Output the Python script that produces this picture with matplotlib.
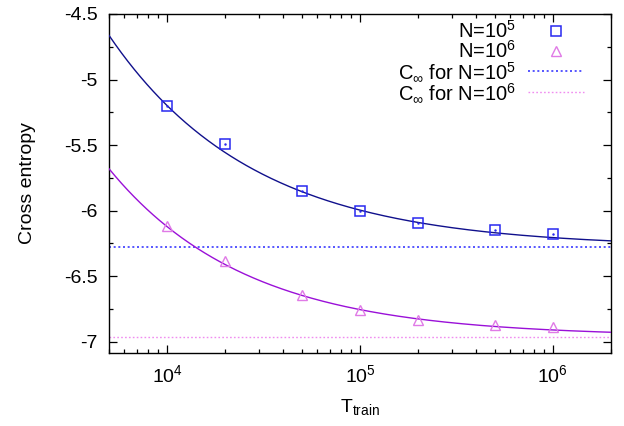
import numpy as np
import matplotlib
matplotlib.use("Agg")
import matplotlib.pyplot as plt
from matplotlib.ticker import FixedLocator, NullFormatter, LogLocator

plt.rcParams['font.family'] = ['Liberation Sans', 'DejaVu Sans']
plt.rcParams['mathtext.fontset'] = 'custom'
plt.rcParams['mathtext.rm'] = 'Liberation Sans'
plt.rcParams['mathtext.it'] = 'Liberation Sans:italic'
plt.rcParams['mathtext.bf'] = 'Liberation Sans:bold'

# Data
T_train = [1e4, 2e4, 5e4, 1e5, 2e5, 5e5, 1e6]
ce_N1e5 = [-5.20, -5.49, -5.85, -6.00, -6.09, -6.15, -6.18]
ce_N1e6 = [-6.12, -6.38, -6.64, -6.76, -6.83, -6.87, -6.89]

# Fit parameters: C(T) = C_inf + A * T^(-alpha)
fit_N1e5 = dict(C_inf=-6.28, A=226.0, alpha=0.58)
fit_N1e6 = dict(C_inf=-6.96, A=231.0, alpha=0.61)

labels = ['N=10$^5$', 'N=10$^6$', r'C$_\infty$ for N=10$^5$', r'C$_\infty$ for N=10$^6$']
yticks = [-7, -6.5, -6, -5.5, -5, -4.5]
ytick_labels = ['-7', '-6.5', '-6', '-5.5', '-5', '-4.5']

fig = plt.figure(figsize=(6.24, 4.26), dpi=100)
ax = fig.add_axes([109/624, 1-353/426, (611-109)/624, (353-14)/426])
ax.set_xscale('log')
ax.set_xlim(5e3, 2e6)
ax.set_ylim(-7.085, -4.5)

tt = np.logspace(np.log10(5e3), np.log10(2e6), 400)
def model(p, t):
    return p['C_inf'] + p['A'] * t ** (-p['alpha'])

ax.plot(tt, model(fit_N1e5, tt), color='#10108c', lw=1.0, zorder=3)
ax.plot(tt, model(fit_N1e6, tt), color='#9a10d8', lw=1.0, zorder=3)

h1, = ax.plot(T_train, ce_N1e5, ls='none', marker='s', mfc='none', mec='#2828f0',
              ms=7, mew=1.1, label=labels[0], zorder=4)
ax.plot(T_train, ce_N1e5, ls='none', marker='.', color='#2828f0', ms=1.5, zorder=4)
h2, = ax.plot(T_train, ce_N1e6, ls='none', marker='^', mfc='none', mec='#e07ae6',
              ms=7.5, mew=1.0, label=labels[1], zorder=4)
h3 = ax.axhline(fit_N1e5['C_inf'], color='#3a3aff', ls=(0, (1.2, 1.6)), lw=1.2, label=labels[2])
h4 = ax.axhline(fit_N1e6['C_inf'], color='#f08cf0', ls=(0, (1.2, 1.6)), lw=1.0, label=labels[3])

ax.set_yticks(yticks)
ax.set_yticklabels(ytick_labels)
ax.yaxis.set_minor_locator(FixedLocator([-7.0 + 0.25*i for i in range(11)]))
ax.xaxis.set_major_locator(LogLocator(base=10, numticks=10))
ax.xaxis.set_minor_locator(LogLocator(base=10, subs=np.arange(2, 10), numticks=20))
ax.xaxis.set_minor_formatter(NullFormatter())

ax.tick_params(which='both', direction='in', top=True, right=True, labelsize=14, color='black')
ax.tick_params(which='major', length=6, width=0.9, pad=8)
ax.tick_params(which='minor', length=3, width=0.9)
for s in ax.spines.values():
    s.set_linewidth(1.0)

ax.set_ylabel('Cross entropy', fontsize=14, labelpad=20)
ax.set_xlabel(r'T$_{\rm train}$', fontsize=14, labelpad=8)

leg = ax.legend(handles=[h1, h2, h3, h4], loc='upper right', bbox_to_anchor=(0.978, 1.03),
                frameon=False, markerfirst=False, fontsize=14.5, handlelength=2.75,
                handletextpad=0.6, labelspacing=-0.1, numpoints=1, borderpad=0.3)

fig.savefig('out.png', dpi=100)
